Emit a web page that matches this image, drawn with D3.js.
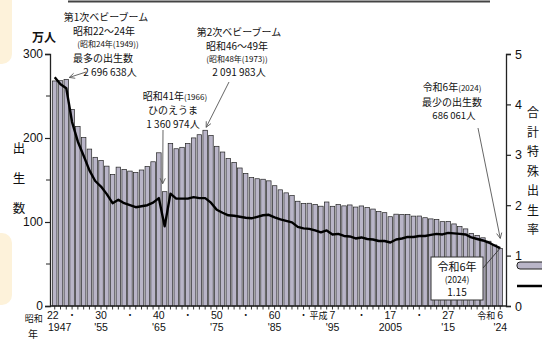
<!DOCTYPE html>
<html><head><meta charset="utf-8">
<script src="https://cdn.jsdelivr.net/npm/d3@7"></script>
<style>
html,body{margin:0;padding:0;background:#fff;}
svg{display:block;}
text{font-family:"Liberation Sans","Noto Sans CJK JP",sans-serif;fill:#111;}
.jp{font-family:"Noto Sans CJK JP","Liberation Sans",sans-serif;}
</style></head>
<body>
<svg id="c" width="542" height="340"></svg>
<script>
const years = [1947,1948,1949,1950,1951,1952,1953,1954,1955,1956,1957,1958,1959,1960,1961,1962,1963,1964,1965,1966,1967,1968,1969,1970,1971,1972,1973,1974,1975,1976,1977,1978,1979,1980,1981,1982,1983,1984,1985,1986,1987,1988,1989,1990,1991,1992,1993,1994,1995,1996,1997,1998,1999,2000,2001,2002,2003,2004,2005,2006,2007,2008,2009,2010,2011,2012,2013,2014,2015,2016,2017,2018,2019,2020,2021,2022,2023,2024];
// births, 万人
const births = [267.9,268.2,269.7,233.8,213.8,200.5,186.8,177.0,173.1,166.5,156.7,165.3,162.6,160.6,158.9,161.9,166.0,171.7,182.4,136.1,193.6,187.2,188.9,193.4,200.1,203.9,209.2,203.0,190.1,183.3,175.5,170.9,164.3,157.7,152.9,151.5,150.9,149.0,143.2,138.3,134.7,131.4,124.7,122.2,122.3,120.9,118.8,123.8,118.7,120.7,119.2,120.3,117.8,119.1,117.1,115.4,112.4,111.1,106.3,109.3,109.0,109.1,107.0,107.1,105.1,103.7,103.0,100.4,100.6,97.7,94.6,91.8,86.5,84.1,81.2,77.1,72.7,68.6];
// total fertility rate
const tfr = [4.54,4.40,4.32,3.65,3.26,2.98,2.69,2.48,2.37,2.22,2.04,2.11,2.04,2.00,1.96,1.98,2.00,2.05,2.14,1.58,2.23,2.13,2.13,2.13,2.16,2.14,2.14,2.05,1.91,1.85,1.80,1.79,1.77,1.75,1.74,1.77,1.80,1.81,1.76,1.72,1.69,1.66,1.57,1.54,1.53,1.50,1.46,1.50,1.42,1.43,1.39,1.38,1.34,1.36,1.33,1.32,1.29,1.29,1.26,1.32,1.34,1.37,1.37,1.39,1.39,1.41,1.43,1.42,1.45,1.44,1.43,1.42,1.36,1.33,1.30,1.26,1.20,1.15];
const leftTicks = [0,100,200,300];
const leftMinor = [50,150,250];
const rightTicks = [0,1,2,3,4,5];
const labelYears = [1947,1955,1965,1975,1985,1995,2005,2015,2024];
const labelEraPrefix = ["昭和","","","","","平成","","","令和"];
const labelEra = ["22","30","40","50","60","7","17","27","6"];
const labelWest = ["1947","'55","'65","'75","'85","'95","2005","'15","'24"];
const dotYears = [1950,1960,1970,1980,1990,2000,2010];

const svg = d3.select("#c");
const barFill = "#b9b5c8", dark = "#222";

// decorative left-edge shapes and top rule
svg.append("rect").attr("x",-12).attr("y",-12).attr("width",24).attr("height",76).attr("rx",10).attr("fill","#fdf2da");
svg.append("rect").attr("x",-12).attr("y",233).attr("width",24).attr("height",72).attr("rx",10).attr("fill","#fdf2da");
svg.append("line").attr("x1",68).attr("x2",490).attr("y1",1.5).attr("y2",1.5).attr("stroke","#444").attr("stroke-width",2);

const x = d3.scaleBand().domain(years).range([52,503]).paddingInner(0.22).paddingOuter(0.08);
const y = d3.scaleLinear().domain([0,300]).range([306,54]);
const r = d3.scaleLinear().domain([0,5]).range([306,54]);
const cx = yr => x(yr) + x.bandwidth()/2;
const B = d3.zip(years, births, tfr);

// bars
svg.append("g").selectAll("rect").data(B).join("rect")
  .attr("x", d => x(d[0])).attr("width", x.bandwidth())
  .attr("y", d => y(d[1])).attr("height", d => y(0) - y(d[1]))
  .attr("fill", barFill).attr("stroke", dark).attr("stroke-width", 0.7);

// TFR line
svg.append("path").datum(B)
  .attr("d", d3.line().x(d => cx(d[0])).y(d => r(d[2])))
  .attr("fill","none").attr("stroke","#000").attr("stroke-width",2.4).attr("stroke-linejoin","round");

// left axis
const gl = svg.append("g").attr("transform","translate(50,0)")
  .call(d3.axisLeft(y).tickValues(leftTicks).tickSize(5).tickPadding(2).tickFormat(d3.format("d")));
gl.select(".domain").attr("stroke",dark).attr("stroke-width",1.3);
gl.selectAll(".tick line").attr("stroke",dark).attr("stroke-width",1.2);
gl.selectAll("text").style("font-size","12px").attr("fill","#111").style("font-family","Liberation Sans");
svg.append("g").selectAll("line").data(leftMinor).join("line")
  .attr("x1",46).attr("x2",50).attr("y1",d=>y(d)).attr("y2",d=>y(d)).attr("stroke",dark).attr("stroke-width",1);

// right axis
const gr = svg.append("g").attr("transform","translate(506,0)")
  .call(d3.axisRight(r).tickValues(rightTicks).tickSize(5).tickPadding(4).tickFormat(d3.format("d")));
gr.select(".domain").attr("stroke",dark).attr("stroke-width",1.3);
gr.selectAll(".tick line").attr("stroke",dark).attr("stroke-width",1.2);
gr.selectAll("text").style("font-size","12.5px").attr("fill","#111").style("font-family","Liberation Sans");

// bottom axis line + yearly ticks
svg.append("line").attr("x1",50).attr("x2",506).attr("y1",306).attr("y2",306).attr("stroke",dark).attr("stroke-width",1.3);
svg.append("g").selectAll("line").data(years).join("line")
  .attr("x1",d=>cx(d)).attr("x2",d=>cx(d)).attr("y1",306).attr("y2",309.5).attr("stroke",dark).attr("stroke-width",0.9);

// x labels
const xl = svg.append("g").style("font-size","10.5px");
labelYears.forEach((yr,i) => {
  const c = cx(yr);
  const ex = (i===0) ? c-2 : c;
  xl.append("text").attr("x", ex).attr("y",319).attr("text-anchor","middle").text(labelEra[i]);
  if (labelEraPrefix[i]) {
    xl.append("text").attr("class","jp").attr("x", ex - (i===0?10:5)).attr("y",i===0?322:319)
      .attr("text-anchor","end").style("font-size","9px").text(labelEraPrefix[i]);
  }
  xl.append("text").attr("x", c + (i===0?5:0)).attr("y",331).attr("text-anchor","middle").text(labelWest[i]);
});
xl.append("text").attr("class","jp").attr("x",33).attr("y",338).attr("text-anchor","middle").style("font-size","10px").text("年");
xl.selectAll(null).data(dotYears).join("text").attr("x",d=>cx(d)).attr("y",318).attr("text-anchor","middle").style("font-size","9px").text("・");

// axis titles
svg.append("text").attr("class","jp").attr("x",44).attr("y",42).attr("text-anchor","middle").style("font-size","12px").style("font-weight","bold").text("万人");
["出","生","数"].forEach((c,i)=> svg.append("text").attr("class","jp").attr("x",19).attr("y",153+i*30).attr("text-anchor","middle").style("font-size","12.5px").text(c));
["合","計","特","殊","出","生","率"].forEach((c,i)=> svg.append("text").attr("class","jp").attr("x",533).attr("y",117+i*19.5).attr("text-anchor","middle").style("font-size","12px").text(c));

// legend
svg.append("rect").attr("x",517).attr("y",262).attr("width",32).attr("height",7).attr("rx",3).attr("fill",barFill).attr("stroke",dark).attr("stroke-width",1);
svg.append("line").attr("x1",517).attr("x2",542).attr("y1",286).attr("y2",286).attr("stroke","#000").attr("stroke-width",2.5);

// annotations
const ann = svg.append("g");
function t(xp,yp,parts,anchor){
  const tx = ann.append("text").attr("class","jp").attr("x",xp).attr("y",yp).attr("text-anchor",anchor||"middle");
  parts.forEach(([s,size]) => tx.append("tspan").style("font-size",size+"px").text(s));
}
function arrow(x1,y1,x2,y2){
  ann.append("line").attr("x1",x1).attr("y1",y1).attr("x2",x2).attr("y2",y2).attr("stroke","#555").attr("stroke-width",0.9);
  const a = Math.atan2(y2-y1,x2-x1), L=6, s=0.45;
  const p = d3.path();
  p.moveTo(x2-L*Math.cos(a-s), y2-L*Math.sin(a-s)); p.lineTo(x2,y2); p.lineTo(x2-L*Math.cos(a+s), y2-L*Math.sin(a+s));
  ann.append("path").attr("d",p.toString()).attr("fill","none").attr("stroke","#555").attr("stroke-width",0.9);
}
t(106,21,[["第1次ベビーブーム",10]]);
t(104,35,[["昭和22～24年",10]]);
t(108,47,[["(昭和24年(1949))",8]]);
t(103,62,[["最多の出生数",10]]);
t(110,76,[["2 696 638人",10]]);
arrow(86,72, cx(1949)+3, y(births[2])-2);

t(239,35.5,[["第2次ベビーブーム",10]]);
t(237,50,[["昭和46～49年",10]]);
t(237,62,[["(昭和48年(1973))",8]]);
t(239,76,[["2 091 983人",10]]);
arrow(229,82, cx(1973)+1, y(births[26])-3);

t(175,100,[["昭和41年",10],["(1966)",8]]);
t(173,114,[["ひのえうま",10]]);
t(173,127.5,[["1 360 974人",10]]);
arrow(163,130, cx(1966)-2, y(births[19])-8);

t(452,91,[["令和6年",10],["(2024)",8]]);
t(452,105.5,[["最少の出生数",10]]);
t(454,119,[["686 061人",9.5]]);
arrow(478,128, cx(2024), y(births[77])-10);

// TFR callout box
ann.append("line").attr("x1",483).attr("y1",268).attr("x2",cx(2024)).attr("y2",r(tfr[77])).attr("stroke","#333").attr("stroke-width",0.9);
ann.append("rect").attr("x",431).attr("y",257).attr("width",52).attr("height",43).attr("fill","#fff").attr("stroke","#333").attr("stroke-width",1);
t(457,271,[["令和6年",11]]);
t(457,283,[["(2024)",8.5]]);
t(457,296,[["1.15",10]]);
</script>
</body></html>
